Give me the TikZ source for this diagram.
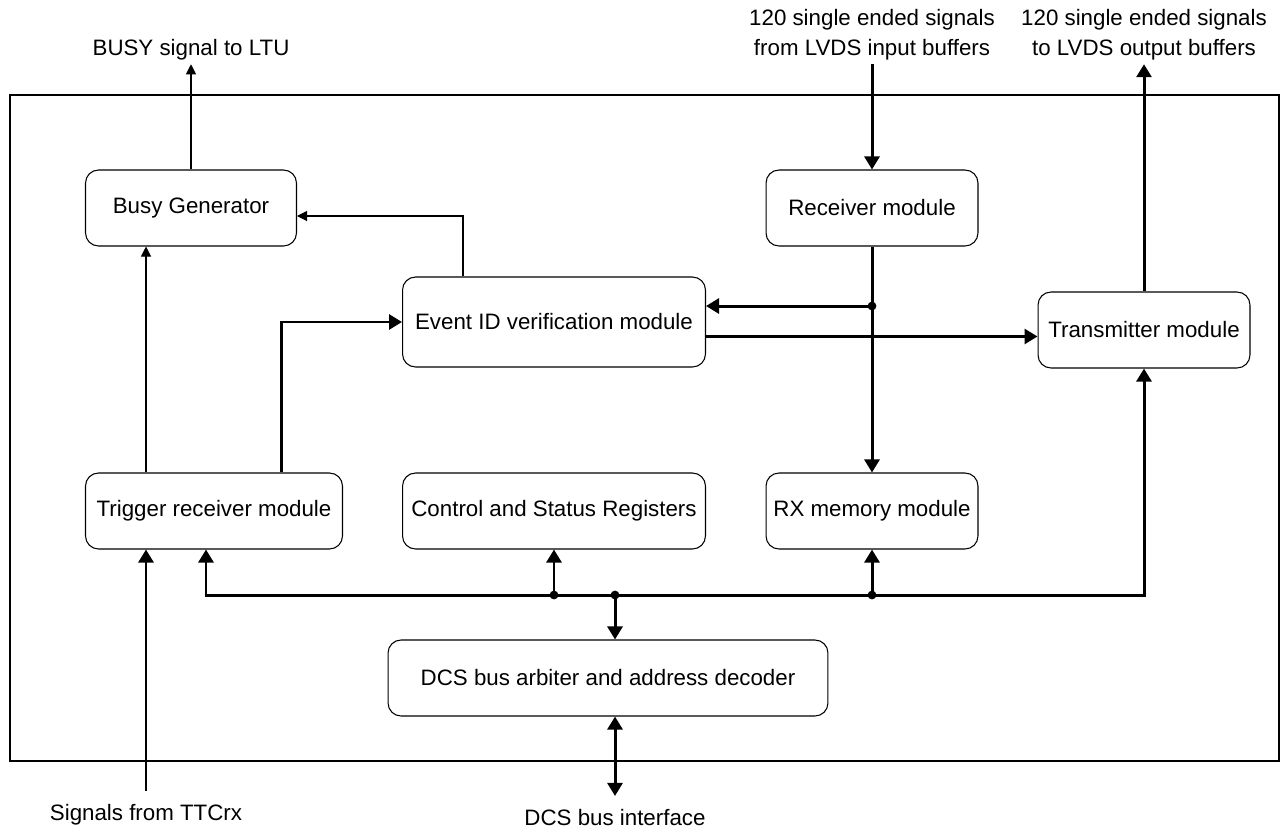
\documentclass[tikz,border=0pt]{standalone}
\usepackage{fontspec}
\setmainfont{Liberation Sans}
\usepackage{tikz}
\usetikzlibrary{positioning,arrows.meta,calc}

\begin{document}
\begin{tikzpicture}[x=0.02cm, y=-0.02cm,
  blk/.style={draw, rounded corners=0.26cm, line width=0.6pt, minimum height=1.52cm, align=center, font=\fontsize{12.7}{17}\selectfont},
  lbl/.style={align=center, inner sep=2pt, font=\fontsize{12.7}{17}\selectfont},
  sig/.style={line width=0.6pt, -{Triangle[length=5.7pt, width=5.7pt]}},
  bus/.style={line width=1.7pt, -{Triangle[length=7.4pt, width=8.5pt]}},
  dot/.style={circle, fill, inner sep=0pt, minimum size=5pt}]
\useasboundingbox (0,0) rectangle (1285,832);
% outer frame
\draw[line width=0.6pt] (10,95) rectangle (1279,761);
% blocks
\node[blk, minimum width=4.22cm] (busy) at (191,208) {Busy Generator};
\node[blk, minimum width=4.24cm] (recv) at (872,208) {Receiver module};
\node[blk, minimum width=6.06cm, minimum height=1.8cm] (evid) at (554,322) {Event ID verification module};
\node[blk, minimum width=4.24cm] (trans) at (1144,330) {Transmitter module};
\node[blk, minimum width=5.14cm] (trig) at (214,511) {Trigger receiver module};
\node[blk, minimum width=6.06cm] (csr) at (554,511) {Control and Status Registers};
\node[blk, minimum width=4.24cm] (rxmem) at (872,511) {RX memory module};
\node[blk, minimum width=8.8cm] (dcs) at (608,678) {DCS bus arbiter and address decoder};
% outside labels
\node[lbl] (busylbl) at (191,50) {BUSY signal to LTU};
\node[lbl] (inlbl) at (872,35) {120 single ended signals\\from LVDS input buffers};
\node[lbl] (outlbl) at (1144,35) {120 single ended signals\\to LVDS output buffers};
\node[lbl] (ttclbl) at (146,815) {Signals from TTCrx};
\node[lbl] (dcslbl) at (615,818) {DCS bus interface};
% taps on the blocks
\coordinate (tx) at ([xshift=-1.36cm]trig.center);
\coordinate (tup) at ([xshift=1.36cm]trig.north);
\coordinate (tdn) at ([xshift=-0.16cm]trig.south);
\coordinate (ebt) at ([xshift=-1.82cm]evid.north);
\coordinate (bin) at ([yshift=-0.16cm]busy.east);
\coordinate (ein) at ([yshift=0.32cm]evid.east);
\coordinate (eout) at ([yshift=-0.29cm]evid.east);
% junctions
\node[dot] (jr) at (recv.south |- ein) {};
\node[dot] (jc) at (554,595) {};
\node[dot] (jd) at (615,595) {};
\node[dot] (jx) at (872,595) {};
% thin signals
\draw[sig] (busy.north) -- (busylbl.south);
\draw[sig] (tx |- trig.north) -- (tx |- busy.south);
\draw[sig] (ebt) |- (bin);
% thick signals
\draw[bus] (inlbl.south) -- (recv.north);
\draw[bus] (trans.north) -- (outlbl.south);
\draw[bus] (recv.south) -- (rxmem.north);
\draw[bus] (jr.center) -- (ein);
\draw[bus] (eout) -- (eout -| trans.west);
\draw[bus] (tup) |- (evid.west);
\draw[bus] ([yshift=0.2cm]ttclbl.north) -- (ttclbl.north |- trig.south);
% DCS bus
\draw[bus] (jc.center) -| (tdn);
\draw[bus] (jc.center) -- (jx.center) -| (trans.south);
\draw[bus] (jc.center) -- (csr.south);
\draw[bus] (jx.center) -- (rxmem.south);
\draw[bus] (jd.center) -- (jd |- dcs.north);
\draw[bus, {Triangle[length=7.4pt, width=8.5pt]}-{Triangle[length=7.4pt, width=8.5pt]}] (jd |- dcs.south) -- ([yshift=0.2cm]dcslbl.north);
\end{tikzpicture}
\end{document}
